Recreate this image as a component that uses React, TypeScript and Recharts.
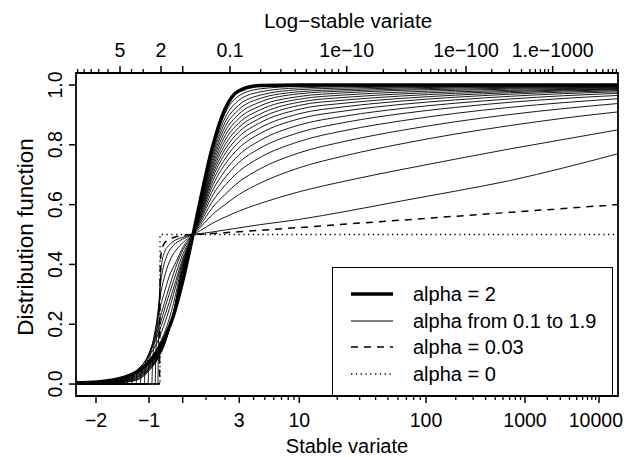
import { ComposedChart, Line, XAxis, YAxis, ReferenceArea } from "recharts";

type Pt = [number, number];

// x positions are on the stretched stable-variate axis: 0 = left edge, 100 = right edge
const bottomMajorX = [3.69, 13.47, 19.69, 30.13, 41.2, 64.58, 82.84, 96.5];
const bottomMajorLabels = ["\u22122", "\u22121", "", "3", "10", "100", "1000", "10000"];
const bottomMinorX = [
  23.99, 27.49,
  32.77, 34.83, 36.5, 37.92, 39.15, 40.22,
  48.2, 52.34, 55.28, 57.55, 59.4, 60.96, 62.31, 63.51,
  70.07, 73.28, 75.57, 77.35, 78.78, 80.02, 81.07, 82.01,
  86.96, 89.35, 91.05, 92.38, 93.47, 94.37, 95.17, 95.87,
];
const topMajorX = [8.12, 15.68, 19.69, 28.41, 49.94, 71.96, 87.95];
const topMajorLabels = ["5", "2", "", "0.1", "1e\u221210", "1e\u2212100", "1.e\u22121000"];
const topMinorX = [
  0.3, 1.5, 2.8, 4.2, 5.9, 10.24, 12.4,
  34.07, 37.8, 40.44, 42.5, 44.33, 45.9, 47.25, 48.44,
  56.7, 60.81, 63.74, 65.45, 66.9, 68.13, 69.2, 70.13,
  76.7, 79.96, 82.2, 83.76, 84.76, 85.68, 86.46, 87.16,
  91.9, 94.3, 96.0, 97.2, 98.2, 99.0, 99.7,
];
const yTicks = [0, 0.2, 0.4, 0.6, 0.8, 1];
const yLabels = ["0.0", "0.2", "0.4", "0.6", "0.8", "1.0"];

// right-hand part of every curve, read on this x grid
const upperX = [21.6, 23, 25, 27.5, 30, 34, 41, 50, 60, 70, 80, 90, 100];

const upA20 = [0.5, 0.62, 0.78, 0.92, 0.98, 0.998, 1, 1, 1, 1, 1, 1, 1];
const upA19 = [0.5, 0.615, 0.77, 0.905, 0.963, 0.987, 0.995, 0.997, 0.998, 0.9985, 0.999, 0.999, 0.999];
const upA18 = [0.5, 0.61, 0.76, 0.89, 0.948, 0.977, 0.99, 0.994, 0.996, 0.997, 0.998, 0.998, 0.998];
const upA17 = [0.5, 0.605, 0.75, 0.875, 0.932, 0.966, 0.984, 0.99, 0.993, 0.995, 0.996, 0.997, 0.997];
const upA16 = [0.5, 0.6, 0.74, 0.86, 0.917, 0.955, 0.977, 0.985, 0.99, 0.993, 0.994, 0.995, 0.996];
const upA15 = [0.5, 0.595, 0.73, 0.845, 0.902, 0.943, 0.97, 0.98, 0.986, 0.99, 0.992, 0.993, 0.994];
const upA14 = [0.5, 0.59, 0.72, 0.83, 0.887, 0.93, 0.961, 0.974, 0.982, 0.986, 0.989, 0.991, 0.992];
const upA13 = [0.5, 0.585, 0.71, 0.815, 0.872, 0.917, 0.952, 0.967, 0.976, 0.982, 0.986, 0.988, 0.99];
const upA12 = [0.5, 0.58, 0.7, 0.8, 0.857, 0.903, 0.942, 0.959, 0.97, 0.977, 0.982, 0.985, 0.988];
const upA11 = [0.5, 0.575, 0.69, 0.785, 0.842, 0.889, 0.931, 0.95, 0.963, 0.972, 0.978, 0.983, 0.986];
const upA10 = [0.5, 0.57, 0.68, 0.77, 0.826, 0.874, 0.918, 0.94, 0.955, 0.966, 0.974, 0.98, 0.984];
const upA09 = [0.5, 0.565, 0.668, 0.753, 0.808, 0.857, 0.903, 0.928, 0.946, 0.959, 0.969, 0.976, 0.981];
const upA08 = [0.5, 0.56, 0.655, 0.735, 0.788, 0.838, 0.886, 0.914, 0.935, 0.95, 0.962, 0.971, 0.977];
const upA07 = [0.5, 0.554, 0.64, 0.713, 0.765, 0.815, 0.865, 0.897, 0.921, 0.939, 0.953, 0.964, 0.972];
const upA06 = [0.5, 0.548, 0.624, 0.69, 0.74, 0.789, 0.84, 0.876, 0.904, 0.925, 0.942, 0.955, 0.965];
const upA05 = [0.5, 0.541, 0.606, 0.664, 0.71, 0.758, 0.81, 0.849, 0.88, 0.905, 0.925, 0.941, 0.954];
const upA04 = [0.5, 0.533, 0.586, 0.634, 0.675, 0.72, 0.772, 0.813, 0.848, 0.877, 0.901, 0.921, 0.938];
const upA03 = [0.5, 0.525, 0.564, 0.6, 0.633, 0.672, 0.722, 0.765, 0.803, 0.836, 0.864, 0.889, 0.91];
const upA02 = [0.5, 0.514, 0.536, 0.558, 0.578, 0.604, 0.642, 0.68, 0.717, 0.752, 0.786, 0.818, 0.85];
const upA01 = [0.5, 0.503, 0.508, 0.515, 0.522, 0.533, 0.55, 0.578, 0.612, 0.645, 0.68, 0.723, 0.77];
const upA003 = [0.5, 0.501, 0.503, 0.506, 0.509, 0.514, 0.523, 0.535, 0.548, 0.561, 0.574, 0.587, 0.6];

// left-hand part of every curve, as (x, probability) pairs
const lowA20: Pt[] = [[0, 0.004], [4, 0.007], [8, 0.018], [10, 0.03], [12, 0.05], [13.5, 0.075], [15, 0.11], [16.5, 0.16], [18, 0.23], [19.5, 0.33]];
const lowA19: Pt[] = [[0, 0.003], [4, 0.006], [8, 0.016], [10, 0.027], [12, 0.047], [13.5, 0.072], [15, 0.108], [16.5, 0.158], [18, 0.232], [19.5, 0.335]];
const lowA18: Pt[] = [[0, 0.003], [4, 0.005], [8, 0.014], [10, 0.025], [12, 0.044], [13.5, 0.069], [15, 0.105], [16.5, 0.156], [18, 0.233], [19.5, 0.34]];
const lowA17: Pt[] = [[0, 0.002], [4, 0.004], [8, 0.012], [10, 0.022], [12, 0.041], [13.5, 0.066], [15, 0.102], [16.5, 0.154], [18, 0.234], [19.5, 0.345]];
const lowA16: Pt[] = [[0, 0.002], [4, 0.004], [8, 0.011], [10, 0.02], [12, 0.038], [13.5, 0.063], [15, 0.099], [16.5, 0.152], [18, 0.235], [19.5, 0.35]];
const lowA15: Pt[] = [[0, 0.002], [4, 0.003], [8, 0.009], [10, 0.018], [12, 0.035], [13.5, 0.06], [15, 0.096], [16.5, 0.15], [18, 0.236], [19.5, 0.355]];
const lowA14: Pt[] = [[0, 0.001], [4, 0.003], [8, 0.008], [10, 0.016], [12, 0.032], [13.5, 0.057], [15, 0.093], [16.5, 0.148], [18, 0.237], [19.5, 0.36]];
const lowA13: Pt[] = [[0, 0.001], [4, 0.002], [8, 0.007], [10, 0.014], [12, 0.029], [13.5, 0.054], [15, 0.09], [16.5, 0.146], [18, 0.238], [19.5, 0.365]];
const lowA12: Pt[] = [[0, 0.001], [4, 0.002], [8, 0.006], [10, 0.012], [12, 0.026], [13.5, 0.051], [15, 0.087], [16.5, 0.144], [18, 0.239], [19.5, 0.37]];
const lowA11: Pt[] = [[0, 0.001], [4, 0.001], [8, 0.005], [10, 0.01], [12, 0.023], [13.5, 0.048], [15, 0.084], [16.5, 0.142], [18, 0.24], [19.5, 0.375]];
const lowA10: Pt[] = [[0, 0], [4, 0.001], [8, 0.004], [10, 0.008], [12, 0.02], [13.5, 0.045], [15, 0.081], [16.5, 0.14], [18, 0.241], [19.5, 0.38]];
const lowA09: Pt[] = [[0, 0], [9.5, 0], [9.6, 0.02], [10.5, 0.035], [12, 0.055], [13.5, 0.08], [15, 0.12], [16.5, 0.18], [18, 0.27], [19.5, 0.39]];
const lowA08: Pt[] = [[0, 0], [10.3, 0], [10.4, 0.025], [11.2, 0.045], [12.5, 0.07], [13.5, 0.095], [15, 0.14], [16.5, 0.21], [18, 0.3], [19.5, 0.4]];
const lowA07: Pt[] = [[0, 0], [11.1, 0], [11.2, 0.03], [12, 0.055], [13, 0.085], [14, 0.12], [15, 0.16], [16.5, 0.235], [18, 0.32], [19.5, 0.41]];
const lowA06: Pt[] = [[0, 0], [11.9, 0], [12, 0.035], [12.8, 0.07], [13.6, 0.11], [14.5, 0.15], [15.5, 0.2], [16.5, 0.26], [18, 0.345], [19.5, 0.425]];
const lowA05: Pt[] = [[0, 0], [12.6, 0], [12.7, 0.04], [13.4, 0.09], [14.2, 0.14], [15, 0.19], [15.8, 0.24], [16.8, 0.3], [18, 0.37], [19.5, 0.44]];
const lowA04: Pt[] = [[0, 0], [13.3, 0], [13.4, 0.05], [14, 0.12], [14.6, 0.18], [15.3, 0.24], [16.2, 0.3], [17.2, 0.36], [18.5, 0.41], [19.8, 0.46]];
const lowA03: Pt[] = [[0, 0], [14, 0], [14.1, 0.06], [14.6, 0.16], [15.1, 0.24], [15.7, 0.31], [16.5, 0.37], [17.5, 0.42], [18.8, 0.455], [20.2, 0.48]];
const lowA02: Pt[] = [[0, 0], [14.6, 0], [14.7, 0.08], [15.1, 0.22], [15.5, 0.32], [16, 0.38], [16.8, 0.43], [17.8, 0.46], [19, 0.478], [20.3, 0.49]];
const lowA01: Pt[] = [[0, 0], [15.1, 0], [15.2, 0.12], [15.45, 0.3], [15.8, 0.4], [16.3, 0.44], [17.2, 0.465], [18.4, 0.482], [19.6, 0.49], [20.6, 0.496]];
const lowA003: Pt[] = [[0, 0], [15.4, 0], [15.45, 0.2], [15.6, 0.42], [16, 0.46], [16.8, 0.48], [18, 0.49], [19.5, 0.496], [20.6, 0.499], [21.2, 0.5]];
const limitA0: Pt[] = [[0, 0], [15.5, 0], [15.5, 0.5], [100, 0.5]];

const thinCurves: [Pt[], number[]][] = [
  [lowA19, upA19], [lowA18, upA18], [lowA17, upA17], [lowA16, upA16], [lowA15, upA15],
  [lowA14, upA14], [lowA13, upA13], [lowA12, upA12], [lowA11, upA11], [lowA10, upA10],
  [lowA09, upA09], [lowA08, upA08], [lowA07, upA07], [lowA06, upA06], [lowA05, upA05],
  [lowA04, upA04], [lowA03, upA03], [lowA02, upA02], [lowA01, upA01],
];

const FONT = '"Liberation Sans", Arial, Helvetica, sans-serif';

function toRows(low: Pt[], up: number[]) {
  const rows = low.map(([x, y]) => ({ x, y }));
  upperX.forEach((x, i) => rows.push({ x, y: up[i] }));
  return rows;
}

function BottomTick({ x, y, payload }: any) {
  const i = bottomMajorX.indexOf(payload.value);
  if (i < 0) return <line x1={x} x2={x} y1={y} y2={y + 4} stroke="#000" strokeWidth={1.3} />;
  // the last label would run past the page edge, so it is right-aligned there
  const last = i === bottomMajorX.length - 1;
  return (
    <g>
      <line x1={x} x2={x} y1={y} y2={y + 7} stroke="#000" strokeWidth={1.5} />
      <text
        x={last ? 623 : x}
        y={y + 31}
        textAnchor={last ? "end" : "middle"}
        fontSize={19.5}
        fontFamily={FONT}
        fill="#000"
      >
        {bottomMajorLabels[i]}
      </text>
    </g>
  );
}

function TopTick({ x, y, payload }: any) {
  const i = topMajorX.indexOf(payload.value);
  if (i < 0) return <line x1={x} x2={x} y1={y} y2={y - 4} stroke="#000" strokeWidth={1.3} />;
  return (
    <g>
      <line x1={x} x2={x} y1={y} y2={y - 7} stroke="#000" strokeWidth={1.5} />
      <text x={x} y={y - 16} textAnchor="middle" fontSize={19.5} fontFamily={FONT} fill="#000">
        {topMajorLabels[i]}
      </text>
    </g>
  );
}

function LeftTick({ x, y, payload }: any) {
  const i = yTicks.indexOf(payload.value);
  const tx = x - 14;
  return (
    <g>
      <line x1={x} x2={x - 7} y1={y} y2={y} stroke="#000" strokeWidth={1.5} />
      <text x={tx} y={y} transform={`rotate(-90 ${tx} ${y})`} textAnchor="middle" fontSize={19.5} fontFamily={FONT} fill="#000">
        {yLabels[i]}
      </text>
    </g>
  );
}

const legendRows = [
  { label: "alpha = 2", width: 3.5, dash: undefined },
  { label: "alpha from 0.1 to 1.9", width: 1, dash: undefined },
  { label: "alpha = 0.03", width: 1.5, dash: "7 6" },
  { label: "alpha = 0", width: 1.3, dash: "1.3 3.5" },
];

export default function App() {
  return (
    <div style={{ position: "absolute", left: 0, top: 0, width: 624, height: 457, background: "#fff", fontFamily: FONT }}>
      <ComposedChart width={624} height={457} margin={{ top: 33, right: 6, bottom: 21, left: 36 }}>
        <XAxis
          xAxisId="b"
          type="number"
          dataKey="x"
          domain={[0, 100]}
          allowDataOverflow
          ticks={[...bottomMajorX, ...bottomMinorX]}
          interval={0}
          height={40}
          tickSize={0}
          tickMargin={0}
          axisLine={false}
          tickLine={false}
          tick={<BottomTick />}
          label={{
            content: () => (
              <text x={347} y={453} textAnchor="middle" fontSize={20} fontFamily={FONT} fill="#000">
                Stable variate
              </text>
            ),
          }}
        />
        <XAxis
          xAxisId="t"
          orientation="top"
          type="number"
          dataKey="x"
          domain={[0, 100]}
          allowDataOverflow
          ticks={[...topMajorX, ...topMinorX]}
          interval={0}
          height={40}
          tickSize={0}
          tickMargin={0}
          axisLine={false}
          tickLine={false}
          tick={<TopTick />}
          label={{
            content: () => (
              <text x={348} y={28} textAnchor="middle" fontSize={20.5} fontFamily={FONT} fill="#000">
                Log{"\u2212"}stable variate
              </text>
            ),
          }}
        />
        <YAxis
          type="number"
          domain={[-0.04, 1.04]}
          allowDataOverflow
          ticks={yTicks}
          interval={0}
          width={40}
          tickSize={0}
          tickMargin={0}
          axisLine={false}
          tickLine={false}
          tick={<LeftTick />}
          label={{
            content: () => (
              <text x={33} y={237} transform="rotate(-90 33 237)" textAnchor="middle" fontSize={22.5} fontFamily={FONT} fill="#000">
                Distribution function
              </text>
            ),
          }}
        />
        {thinCurves.map(([low, up], i) => (
          <Line
            key={i}
            xAxisId="b"
            data={toRows(low, up)}
            dataKey="y"
            type="monotone"
            stroke="#000"
            strokeWidth={0.9}
            dot={false}
            isAnimationActive={false}
          />
        ))}
        <Line xAxisId="b" data={toRows(lowA003, upA003)} dataKey="y" type="monotone" stroke="#000" strokeWidth={1.5} strokeDasharray="7 6" dot={false} isAnimationActive={false} />
        <Line xAxisId="b" data={limitA0.map(([x, y]) => ({ x, y }))} dataKey="y" type="linear" stroke="#000" strokeWidth={1.3} strokeDasharray="1.3 3.5" dot={false} isAnimationActive={false} />
        <Line xAxisId="b" data={toRows(lowA20, upA20)} dataKey="y" type="monotone" stroke="#000" strokeWidth={3.5} dot={false} isAnimationActive={false} />
        <ReferenceArea xAxisId="b" x1={0} x2={100} y1={-0.04} y2={1.04} fill="none" stroke="#000" strokeWidth={1.8} ifOverflow="visible" />
      </ComposedChart>
      <div
        style={{
          position: "absolute",
          left: 332,
          top: 267,
          width: 281,
          height: 129,
          boxSizing: "border-box",
          border: "1.5px solid #000",
          background: "#fff",
          paddingTop: 13,
        }}
      >
        {legendRows.map((r) => (
          <div key={r.label} style={{ display: "flex", alignItems: "center", height: 26.5 }}>
            <svg width={78} height={10} style={{ marginLeft: 16 }}>
              <line x1={2} x2={44} y1={5} y2={5} stroke="#000" strokeWidth={r.width} strokeDasharray={r.dash} />
            </svg>
            <span style={{ fontSize: 20, marginLeft: -14, lineHeight: "20px" }}>{r.label}</span>
          </div>
        ))}
      </div>
    </div>
  );
}
